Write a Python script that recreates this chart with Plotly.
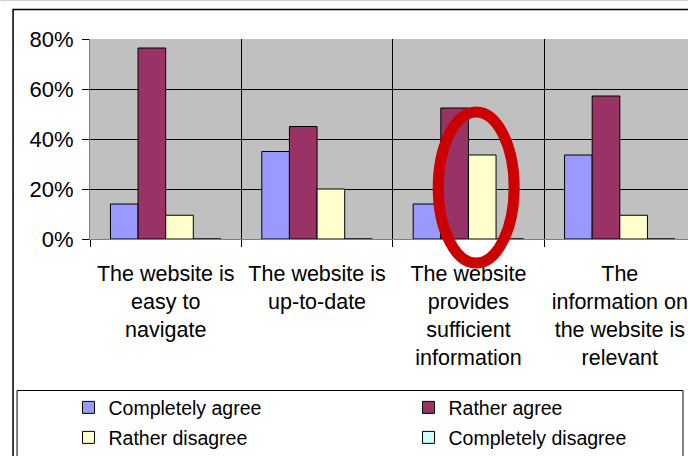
import plotly.graph_objects as go

categories = [
    "The website is<br>easy to<br>navigate",
    "The website is<br>up-to-date",
    "The website<br>provides<br>sufficient<br>information",
    "The<br>information on<br>the website is<br>relevant",
]
series_names = ["Completely agree", "Rather agree", "Rather disagree", "Completely disagree"]
completely_agree = [14, 35, 14, 33.6]
rather_agree = [76.4, 45, 52.4, 57.2]
rather_disagree = [9.5, 20, 33.6, 9.5]
completely_disagree = [0, 0, 0, 0]
series_values = [completely_agree, rather_agree, rather_disagree, completely_disagree]
colors = ["#9999FF", "#993366", "#FFFFCC", "#CCFFFF"]
y_ticks = [0, 20, 40, 60, 80]
y_tick_labels = [f"{v}%" for v in y_ticks]

W, H = 688, 456
L, R, T, B = 89.5, 0, 39, 217
pw = W - L - R
ph = H - T - B
cat_px = 151.5

def px_x(p):
    return (p - L) / pw

def px_y(p):
    return (H - B - p) / ph

positions = list(range(len(categories)))

fig = go.Figure()
for i, (name, vals, col) in enumerate(zip(series_names, series_values, colors)):
    fig.add_trace(go.Bar(
        x=positions, y=vals, name=name,
        marker=dict(color=col, line=dict(color="black", width=1)),
        legend="legend" if i < 2 else "legend2",
    ))

font_family = "Liberation Sans, Arial, sans-serif"

legend_common = dict(orientation="h", xanchor="left", yanchor="middle",
                     entrywidth=295, entrywidthmode="pixels", font=dict(size=19.5),
                     bgcolor="rgba(0,0,0,0)", borderwidth=0)

fig.update_layout(
    width=W, height=H,
    margin=dict(l=L, r=R, t=T, b=B, autoexpand=False),
    paper_bgcolor="white",
    plot_bgcolor="#C0C0C0",
    barmode="group", bargap=0.27, bargroupgap=0,
    font=dict(family=font_family, color="black"),
    xaxis=dict(
        range=[-0.5, -0.5 + pw / cat_px],
        tickvals=positions, ticktext=categories,
        tickfont=dict(size=21.5),
        ticks="", showgrid=False, zeroline=False,
        showline=True, linecolor="#808080", linewidth=1,
        ticklabelstandoff=15,
        minor=dict(tickvals=[-0.5, 0.5, 1.5, 2.5], showgrid=True, gridcolor="black",
                   gridwidth=1, ticks="outside", ticklen=7, tickcolor="black"),
    ),
    yaxis=dict(
        range=[0, 80], tickmode="array", tickvals=y_ticks, ticktext=y_tick_labels,
        tickfont=dict(size=22),
        showgrid=True, gridcolor="black", gridwidth=1, zeroline=False,
        showline=True, linecolor="#808080", linewidth=1, mirror=True,
        ticks="outside", ticklen=7, tickcolor="black",
        ticklabelstandoff=4,
    ),
    legend=dict(x=px_x(68), y=px_y(407.7), **legend_common),
    legend2=dict(x=px_x(68), y=px_y(437.7), **legend_common),
    shapes=[
        dict(type="rect", xref="paper", yref="paper",
             x0=px_x(12.5), x1=px_x(700), y0=px_y(9.5), y1=px_y(470),
             line=dict(color="black", width=1.5), layer="below"),
        dict(type="line", xref="paper", yref="paper",
             x0=px_x(0), x1=px_x(700), y0=px_y(0.5), y1=px_y(0.5),
             line=dict(color="#d0d0d0", width=1)),
        dict(type="rect", xref="paper", yref="paper",
             x0=px_x(16.5), x1=px_x(683), y0=px_y(390.5), y1=px_y(470),
             line=dict(color="black", width=1)),
        dict(type="circle", xref="paper", yref="paper",
             x0=px_x(438), x1=px_x(514), y0=px_y(263), y1=px_y(112),
             line=dict(color="#CC0000", width=11)),
    ],
)

fig.write_html(
    "out.html",
    config={"displayModeBar": False},
    post_script="document.body.style.margin='0';document.body.style.overflow='hidden';",
)
